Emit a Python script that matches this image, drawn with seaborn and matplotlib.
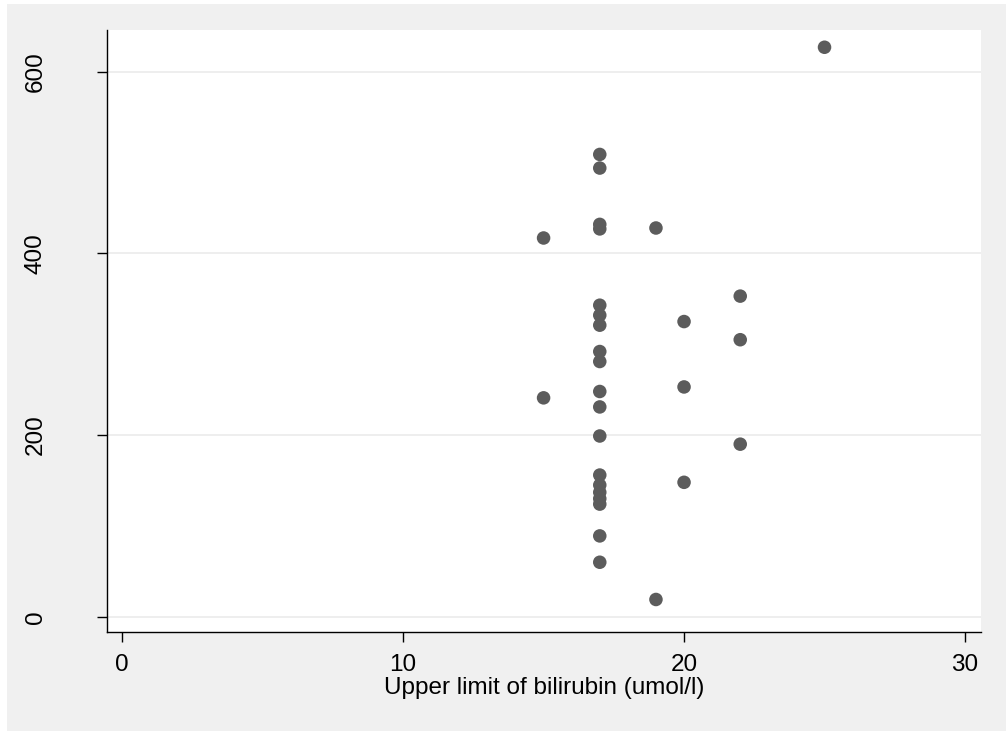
import matplotlib
matplotlib.use("Agg")
import matplotlib.pyplot as plt
import seaborn as sns
import pandas as pd
from matplotlib.patches import Rectangle

# Data
upper_limit = [25,
               17, 17, 17, 17, 17, 17, 17, 17, 17, 17, 17, 17, 17, 17, 17, 17, 17, 17, 17,
               15, 15,
               19, 19,
               20, 20, 20,
               22, 22, 22]
values = [627,
          509, 494, 432, 427, 343, 332, 321, 292, 281, 248, 231, 199, 156, 145, 137, 130, 124, 89, 60,
          417, 241,
          428, 19,
          325, 253, 148,
          353, 305, 190]
x_ticks = [0, 10, 20, 30]
y_ticks = [0, 200, 400, 600]
x_label = "Upper limit of bilirubin (umol/l)"

df = pd.DataFrame({"x": upper_limit, "y": values})

sns.set_style("white")
plt.rcParams['font.family'] = ['Liberation Sans', 'DejaVu Sans']
plt.rcParams['text.color'] = 'black'
plt.rcParams['axes.labelcolor'] = 'black'
plt.rcParams['xtick.color'] = 'black'
plt.rcParams['ytick.color'] = 'black'

fig = plt.figure(figsize=(10.06, 7.31), dpi=100)
fig.patch.set_facecolor("white")
fig.patches.append(Rectangle((7/1006, 0), 1, 1 - 4/731, transform=fig.transFigure,
                             facecolor="#f0f0f0", edgecolor="none", zorder=-10))
ax = fig.add_axes([107/1006, 1 - 632/731, (981 - 107)/1006, (632 - 30)/731])
ax.set_facecolor("white")

sns.scatterplot(data=df, x="x", y="y", ax=ax, color="#5c5c5c", s=95,
                edgecolor="none", linewidth=0, zorder=3)

ax.set_xlim(-0.54, 30.57)
ax.set_ylim(-16.8, 646)
ax.set_xticks(x_ticks)
ax.set_yticks(y_ticks)
ax.set_xticklabels([str(t) for t in x_ticks])
ax.set_yticklabels([str(t) for t in y_ticks], rotation=90, va="center")

ax.yaxis.grid(True, color="#eaeaea", linewidth=1.1)
ax.xaxis.grid(False)
ax.set_axisbelow(True)

for s in ["top", "right"]:
    ax.spines[s].set_visible(False)
for s in ["left", "bottom"]:
    ax.spines[s].set_color("black")
    ax.spines[s].set_linewidth(1.0)

ax.tick_params(axis="x", direction="out", length=7.5, width=1.0, color="black",
               labelcolor="black", labelsize=17.5, pad=8, bottom=True)
ax.tick_params(axis="y", direction="out", length=7.5, width=1.0, color="black",
               labelcolor="black", labelsize=17.5, pad=36, left=True)

ax.set_xlabel(x_label, fontsize=17.5, labelpad=1, color="black")
ax.set_ylabel("")

fig.savefig("out.png", dpi=100, facecolor=fig.get_facecolor())
